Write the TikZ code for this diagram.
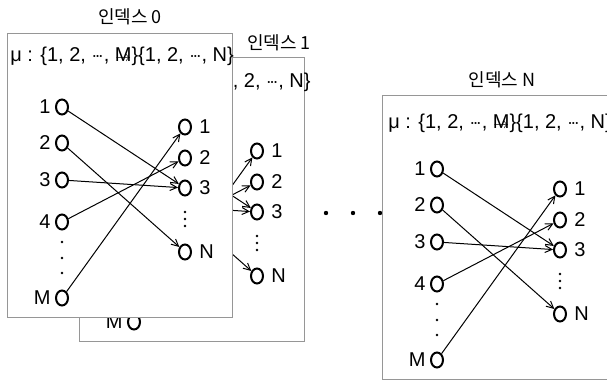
\documentclass[tikz,border=0pt]{standalone}
\usepackage{fontspec}
\setmainfont{Liberation Sans}
\newfontfamily\hangul{Noto Sans CJK KR}
\usetikzlibrary{shapes.geometric, arrows.meta}
\definecolor{framegray}{RGB}{150,150,150}
\tikzset{
  mapframe/.style={draw=framegray, line width=0.5pt, fill=white},
  elem/.style={ellipse, draw, line width=1pt, minimum width=6pt,
    minimum height=7.5pt, inner sep=0pt},
  elemlabel/.style={font=\fontsize{10}{11}\selectfont, inner sep=2pt},
  vdot/.style={circle, fill, inner sep=0pt, minimum size=1.4pt},
  hdot/.style={circle, fill, inner sep=0pt, minimum size=2.2pt},
  maparrow/.style={-{Straight Barb[length=3.5pt, width=3.5pt]}, line width=0.5pt},
  boxtitle/.style={font=\hangul\fontsize{9}{10}\selectfont, inner sep=0pt},
  ruletext/.style={font=\fontsize{10}{11}\selectfont, inner sep=0pt}
}
% short centred ellipsis
\newcommand{\cdts}{${\cdot}\mkern-2mu{\cdot}\mkern-2mu{\cdot}$}
% mapping rule, the arrow is squeezed onto the M
\newcommand{\ruleline}{μ : \{1, 2, \cdts, \makebox[0pt][l]{M}\makebox[0.83em]{\scriptsize$\rightarrow$}\}\{1, 2, \cdts, N\}}
% one index box: #1 name prefix, #2/#3 shift
\newcommand{\drawmapping}[3]{%
  \begin{scope}[shift={(#2,#3)}]
    \draw[mapframe] (7,33) rectangle (232,317);
    % source side
    \node[elem, label={[elemlabel]left:1}] (#1s1) at (62,107) {};
    \node[elem, label={[elemlabel]left:2}] (#1s2) at (62,143) {};
    \node[elem, label={[elemlabel]left:3}] (#1s3) at (62,180) {};
    \node[elem, label={[elemlabel]left:4}] (#1s4) at (62,222) {};
    \node[vdot] (#1sd1) at (62,242) {};
    \node[vdot] (#1sd2) at (62,258) {};
    \node[vdot] (#1sd3) at (62,273) {};
    \node[elem, label={[elemlabel]left:M}] (#1sm) at (62,298) {};
    % target side
    \node[elem, label={[elemlabel, label distance=1.5pt]right:1}] (#1t1) at (185,127) {};
    \node[elem, label={[elemlabel, label distance=1.5pt]right:2}] (#1t2) at (185,158) {};
    \node[elem, label={[elemlabel, label distance=1.5pt]right:3}] (#1t3) at (185,188) {};
    \node[vdot] (#1td1) at (185,212) {};
    \node[vdot] (#1td2) at (185,219) {};
    \node[vdot] (#1td3) at (185,226) {};
    \node[elem, label={[elemlabel, label distance=1.5pt]right:N}] (#1tn) at (185,252) {};
    % mapping
    \draw[maparrow] (#1s1) -- (#1t3);
    \draw[maparrow] (#1s2) -- (#1tn);
    \draw[maparrow] (#1s3) -- (#1t3);
    \draw[maparrow] (#1s4) -- (#1t2);
    \draw[maparrow] (#1sm) -- (#1t1);
  \end{scope}}

\begin{document}
\begin{tikzpicture}[x=0.5pt, y=-0.5pt]
  \useasboundingbox (0,0) rectangle (607,380);

  % index 1, mostly behind index 0
  \drawmapping{b}{72}{24}
  \node[ruletext, anchor=east] (rule1) at (311,82) {\ruleline};

  % index 0
  \drawmapping{a}{0}{0}
  \node[boxtitle] (title0) at (130,17) {인덱스 0};
  \node[ruletext, anchor=west] (rule0) at (10,56) {\ruleline};
  \node[boxtitle] (title1) at (279,43) {인덱스 1};

  % more boxes in between
  \node[hdot] (gap1) at (326,213) {};
  \node[hdot] (gap2) at (353,213) {};
  \node[hdot] (gap3) at (380,213) {};

  % index N
  \drawmapping{n}{375}{62}
  \node[boxtitle] (titleN) at (502,80) {인덱스 N};
  \node[ruletext, anchor=west] (ruleN) at (388,123) {\ruleline};
\end{tikzpicture}
\end{document}
